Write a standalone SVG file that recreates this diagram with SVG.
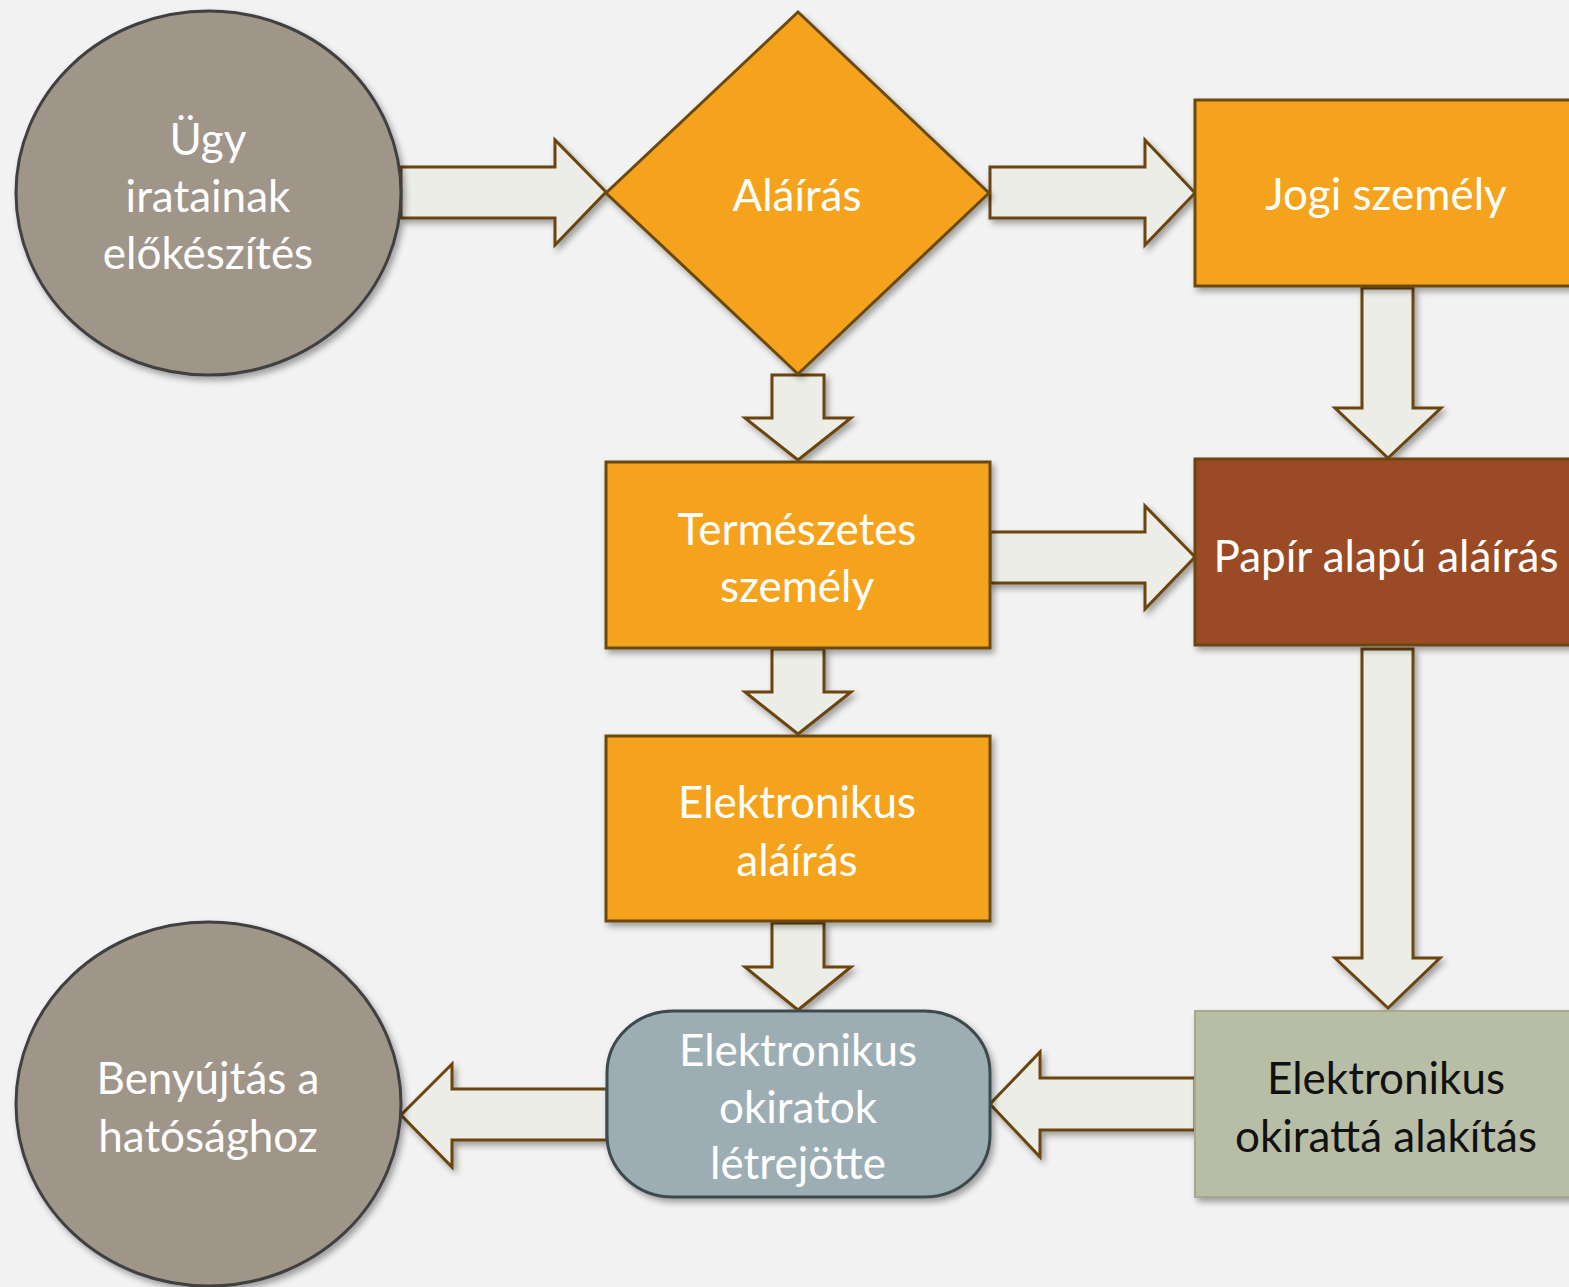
<svg xmlns="http://www.w3.org/2000/svg" width="1569" height="1287" viewBox="0 0 1569 1287">
<defs>
<filter id="sh" x="-10%" y="-10%" width="130%" height="130%">
<feDropShadow dx="3" dy="4" stdDeviation="3" flood-color="#000" flood-opacity="0.35"/>
</filter>
<style>
.t{font-family:Lato,"Liberation Sans",sans-serif;font-size:44px;fill:#fff;text-anchor:middle}
.dk{fill:#111}
.ar{fill:#EDEDE7;stroke:#6B4410;stroke-width:3;stroke-linejoin:miter;filter:url(#sh)}
.or{fill:#F5A31F;stroke:#6B4A10;stroke-width:3;filter:url(#sh)}
.ci{fill:#A09589;stroke:#3F3F3F;stroke-width:3;filter:url(#sh)}
</style>
</defs>
<rect width="1569" height="1287" fill="#F2F2F2"/>
<g id="connectors">
<polygon class="ar" points="401,167 555,167 555,140 606,192 555,245 555,218 401,218"/>
<polygon class="ar" points="990,167 1145,167 1145,140 1195,193 1145,245 1145,218 990,218"/>
<polygon class="ar" points="772,375 824,375 824,418 851,418 798,460 745,418 772,418"/>
<polygon class="ar" points="1362,288 1413,288 1413,408 1441,408 1388,458 1335,408 1362,408"/>
<polygon class="ar" points="990,532 1145,532 1145,506 1195,557 1145,609 1145,583 990,583"/>
<polygon class="ar" points="772,649 824,649 824,692 851,692 798,734 745,692 772,692"/>
<polygon class="ar" points="772,923 824,923 824,967 851,967 798,1010 745,967 772,967"/>
<polygon class="ar" points="1362,649 1413,649 1413,958 1440,958 1388,1008 1335,958 1362,958"/>
<polygon class="ar" points="1195,1078 1040,1078 1040,1052 990,1104 1040,1157 1040,1130 1195,1130"/>
<polygon class="ar" points="607,1089 452,1089 452,1064 401,1115 452,1167 452,1140 607,1140"/>
</g>
<g id="n1">
<ellipse class="ci" cx="208.5" cy="193" rx="192.5" ry="182"/>
<text class="t" x="208" y="155">Ügy</text>
<text class="t" x="208" y="212">iratainak</text>
<text class="t" x="208" y="269">előkészítés</text>
</g>
<g id="n2">
<polygon class="or" points="798,12 989,193 798,374 606,193"/>
<text class="t" x="797" y="211">Aláírás</text>
</g>
<g id="n3">
<rect class="or" x="1195" y="100" width="380" height="186"/>
<text class="t" x="1386" y="210">Jogi személy</text>
</g>
<g id="n4">
<rect class="or" x="606" y="462" width="384" height="186"/>
<text class="t" x="797" y="545">Természetes</text>
<text class="t" x="797" y="602">személy</text>
</g>
<g id="n5">
<rect x="1195" y="459" width="380" height="186" fill="#9A4C27" stroke="#6B4410" stroke-width="3" filter="url(#sh)"/>
<text class="t" x="1386" y="572">Papír alapú aláírás</text>
</g>
<g id="n6">
<rect class="or" x="606" y="736" width="384" height="185"/>
<text class="t" x="797" y="818">Elektronikus</text>
<text class="t" x="797" y="876">aláírás</text>
</g>
<g id="n7">
<rect x="607" y="1011" width="383" height="186" rx="66" ry="62" fill="#9CAEB4" stroke="#3D4A4E" stroke-width="3" filter="url(#sh)"/>
<text class="t" x="798" y="1066">Elektronikus</text>
<text class="t" x="798" y="1123">okiratok</text>
<text class="t" x="798" y="1179">létrejötte</text>
</g>
<g id="n8">
<rect x="1195" y="1011" width="380" height="186" fill="#B8BEA6" stroke="#A4AA90" stroke-width="2" filter="url(#sh)"/>
<text class="t dk" x="1386" y="1094">Elektronikus</text>
<text class="t dk" x="1386" y="1152">okirattá alakítás</text>
</g>
<g id="n9">
<ellipse class="ci" cx="208.5" cy="1104" rx="192.5" ry="182"/>
<text class="t" x="208" y="1094">Benyújtás a</text>
<text class="t" x="208" y="1152">hatósághoz</text>
</g>
</svg>
